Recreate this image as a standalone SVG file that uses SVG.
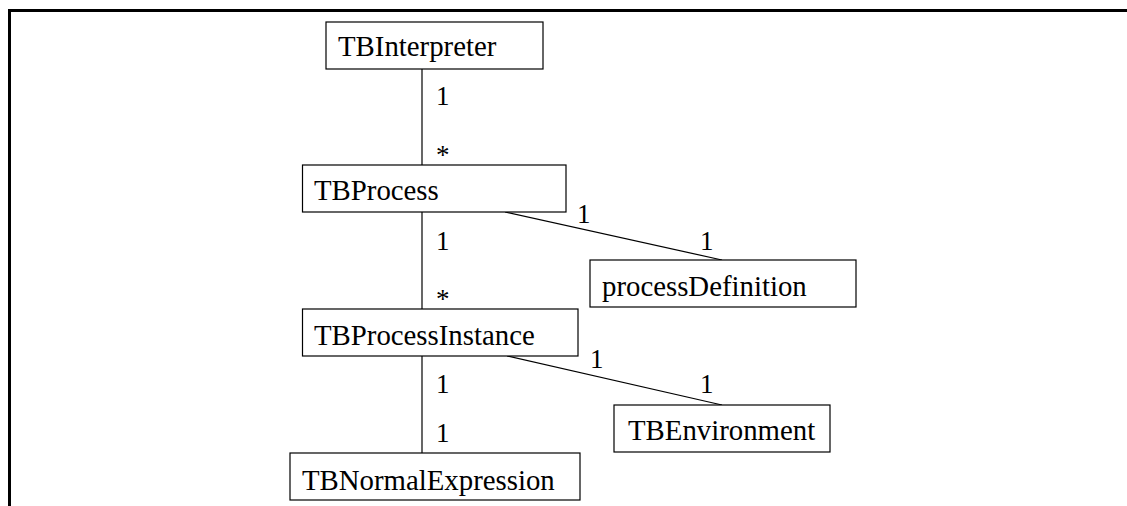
<svg xmlns="http://www.w3.org/2000/svg" width="1127" height="506" viewBox="0 0 1127 506">
  <style>
    .box { fill: #ffffff; stroke: #000000; stroke-width: 1.2; }
    .edge { fill: none; stroke: #000000; stroke-width: 1.2; }
    .frame { fill: none; stroke: #000000; stroke-width: 3; }
    .name { font-family: "Liberation Serif", "Times New Roman", serif; font-size: 28.8px; fill: #000000; }
    .mult { font-family: "Liberation Serif", "Times New Roman", serif; font-size: 27px; fill: #000000; }
  </style>
  <rect width="1127" height="506" fill="#ffffff"/>
  <!-- outer frame, open to the right and bottom -->
  <path class="frame" d="M 9.5 506 L 9.5 10.5 L 1127 10.5"/>

  <g id="connectors">
    <line class="edge" x1="422" y1="69" x2="422" y2="165"/>
    <line class="edge" x1="422" y1="212" x2="422" y2="309"/>
    <line class="edge" x1="422" y1="356" x2="422" y2="453"/>
    <line class="edge" x1="505" y1="212" x2="722" y2="260"/>
    <line class="edge" x1="507" y1="356" x2="722" y2="405"/>
    <text class="mult" x="436" y="105">1</text>
    <text class="mult" x="436" y="164">*</text>
    <text class="mult" x="436" y="250">1</text>
    <text class="mult" x="436" y="308">*</text>
    <text class="mult" x="436" y="393">1</text>
    <text class="mult" x="436" y="442">1</text>
    <text class="mult" x="577" y="223">1</text>
    <text class="mult" x="700" y="250">1</text>
    <text class="mult" x="590" y="368">1</text>
    <text class="mult" x="700" y="393">1</text>
  </g>

  <g id="TBInterpreter">
    <rect class="box" x="326" y="22" width="217" height="47"/>
    <text class="name" x="338" y="56">TBInterpreter</text>
  </g>
  <g id="TBProcess">
    <rect class="box" x="302.5" y="165" width="263.5" height="47"/>
    <text class="name" x="314" y="200">TBProcess</text>
  </g>
  <g id="processDefinition">
    <rect class="box" x="590" y="260" width="266" height="47"/>
    <text class="name" x="602" y="296">processDefinition</text>
  </g>
  <g id="TBProcessInstance">
    <rect class="box" x="302.5" y="309" width="275.5" height="47"/>
    <text class="name" x="314" y="345">TBProcessInstance</text>
  </g>
  <g id="TBEnvironment">
    <rect class="box" x="614" y="405" width="216" height="47"/>
    <text class="name" x="628" y="440">TBEnvironment</text>
  </g>
  <g id="TBNormalExpression">
    <rect class="box" x="290" y="453" width="290" height="47"/>
    <text class="name" x="302" y="490">TBNormalExpression</text>
  </g>
</svg>
